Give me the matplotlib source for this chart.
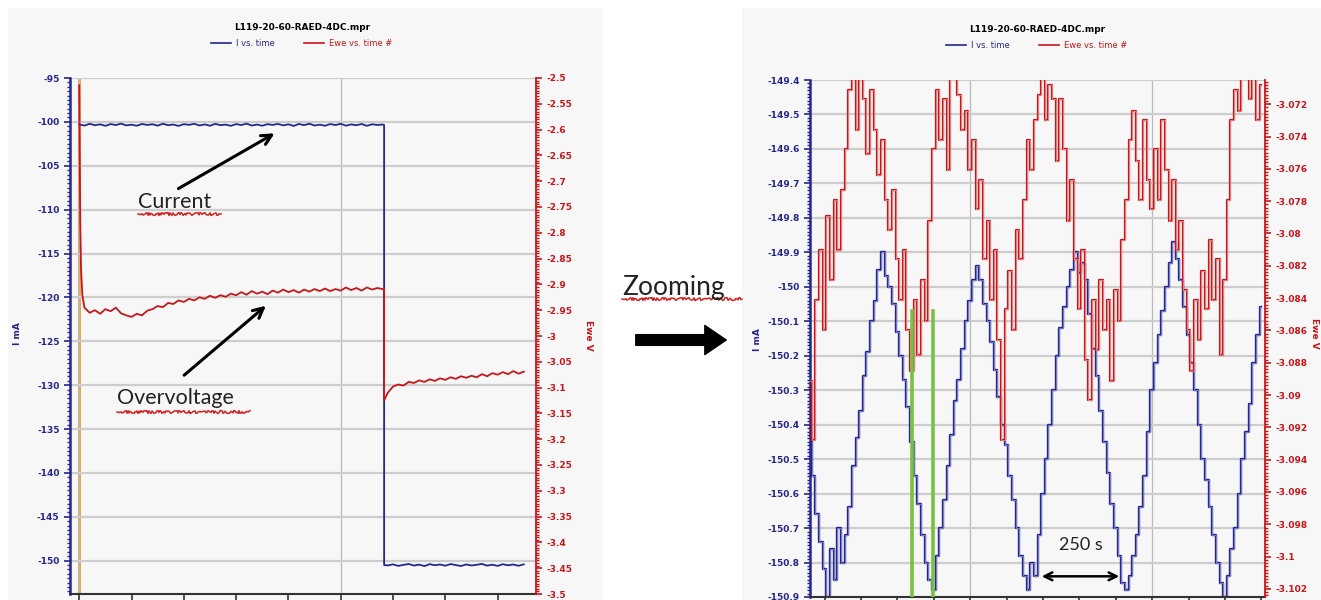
import numpy as np
import matplotlib
matplotlib.use("Agg")
import matplotlib.pyplot as plt
from matplotlib.lines import Line2D
from matplotlib.patches import FancyArrowPatch, Rectangle
from matplotlib.ticker import MultipleLocator, AutoMinorLocator, FormatStrFormatter

plt.rcParams["axes.unicode_minus"] = False

W, H = 1321, 600
BLUE = "#26268f"
RED = "#c8161b"
GREEN = "#78c143"
ORANGE = "#eba64a"
TITLE = "L119-20-60-RAED-4DC.mpr"

# ── Left panel: whole pulse (time / s, I / mA, Ewe / V) ─────────────────────
t_step1 = np.arange(0, 5900, 100)          # first current step
i_step1 = [-100.30, -100.42, -100.22, -100.38, -100.28, -100.45, -100.25, -100.36, -100.20, -100.40,
           -100.32, -100.44, -100.24, -100.35, -100.27, -100.43, -100.21, -100.38, -100.30, -100.46,
           -100.26, -100.34, -100.22, -100.41, -100.29, -100.44, -100.23, -100.37, -100.31, -100.45,
           -100.25, -100.36, -100.20, -100.42, -100.30, -100.44, -100.26, -100.35, -100.23, -100.40,
           -100.28, -100.46, -100.24, -100.37, -100.21, -100.41, -100.32, -100.44, -100.25, -100.36,
           -100.22, -100.43, -100.29, -100.38, -100.24, -100.45, -100.27, -100.35, -100.30]
t_switch = 5830
i_switch = [-100.35, -150.50]
ewe_switch = [-2.909, -3.125]
t_step2 = np.arange(5900, 8600, 100)       # second current step
i_step2 = [-150.55, -150.42, -150.60, -150.48, -150.38, -150.56, -150.45, -150.62, -150.40, -150.52,
           -150.44, -150.58, -150.39, -150.50, -150.61, -150.43, -150.55, -150.47, -150.37, -150.57,
           -150.46, -150.60, -150.41, -150.53, -150.44, -150.58, -150.42]

t_start = [0, 10, 20, 35, 60]
ewe_start = [-2.514, -2.650, -2.780, -2.870, -2.920]
ewe_step1 = [-2.945, -2.955, -2.950, -2.957, -2.948, -2.952, -2.945, -2.956, -2.960, -2.963,
             -2.957, -2.960, -2.951, -2.948, -2.942, -2.944, -2.936, -2.938, -2.931, -2.934,
             -2.928, -2.931, -2.925, -2.928, -2.922, -2.926, -2.921, -2.924, -2.918, -2.921,
             -2.915, -2.920, -2.913, -2.918, -2.914, -2.919, -2.912, -2.916, -2.910, -2.915,
             -2.911, -2.916, -2.910, -2.914, -2.909, -2.913, -2.908, -2.913, -2.909, -2.912,
             -2.906, -2.911, -2.907, -2.912, -2.906, -2.910, -2.907, -2.909]   # t = 100..5800
ewe_step2 = [-3.110, -3.098, -3.094, -3.096, -3.089, -3.091, -3.086, -3.089, -3.084, -3.087,
             -3.082, -3.085, -3.080, -3.083, -3.078, -3.081, -3.077, -3.080, -3.074, -3.078,
             -3.072, -3.075, -3.070, -3.074, -3.068, -3.073, -3.069]
t_orange = 0

# ── Right panel: zoom on the second step ───────────────────────────────────
t_zoom = np.arange(0, 1250, 10)
i_zoom = [-150.45, -150.55, -150.66, -150.74, -150.82, -150.90, -150.76, -150.85, -150.70, -150.80,
          -150.72, -150.64, -150.52, -150.44, -150.36, -150.26, -150.19, -150.10, -150.04, -149.95,
          -149.90, -149.97, -150.00, -150.05, -150.13, -150.20, -150.27, -150.35, -150.45, -150.55,
          -150.63, -150.72, -150.80, -150.85, -150.88, -150.78, -150.70, -150.62, -150.52, -150.43,
          -150.33, -150.27, -150.18, -150.10, -150.04, -149.98, -149.94, -149.98, -150.05, -150.10,
          -150.16, -150.24, -150.32, -150.40, -150.46, -150.55, -150.62, -150.70, -150.78, -150.84,
          -150.88, -150.80, -150.84, -150.72, -150.60, -150.50, -150.40, -150.30, -150.20, -150.12,
          -150.06, -150.00, -149.95, -149.90, -149.96, -149.93, -149.98, -150.08, -150.18, -150.26,
          -150.36, -150.45, -150.54, -150.63, -150.70, -150.78, -150.86, -150.88, -150.84, -150.78,
          -150.72, -150.64, -150.55, -150.42, -150.30, -150.22, -150.14, -150.07, -150.00, -149.93,
          -149.87, -149.92, -149.98, -150.06, -150.14, -150.22, -150.30, -150.40, -150.50, -150.56,
          -150.64, -150.72, -150.80, -150.86, -150.90, -150.84, -150.76, -150.70, -150.60, -150.50,
          -150.42, -150.34, -150.22, -150.14, -150.06]
ewe_zoom = [-3.0891, -3.0928, -3.0841, -3.0810, -3.0860, -3.0789, -3.0829, -3.0779, -3.0810, -3.0773,
            -3.0748, -3.0711, -3.0700, -3.0736, -3.0700, -3.0717, -3.0751, -3.0711, -3.0736, -3.0764,
            -3.0742, -3.0779, -3.0798, -3.0773, -3.0816, -3.0841, -3.0810, -3.0860, -3.0885, -3.0841,
            -3.0875, -3.0829, -3.0854, -3.0792, -3.0748, -3.0711, -3.0742, -3.0717, -3.0761, -3.0700,
            -3.0700, -3.0714, -3.0736, -3.0724, -3.0761, -3.0742, -3.0785, -3.0767, -3.0816, -3.0792,
            -3.0841, -3.0810, -3.0866, -3.0928, -3.0847, -3.0823, -3.0860, -3.0798, -3.0816, -3.0779,
            -3.0742, -3.0761, -3.0730, -3.0714, -3.0700, -3.0730, -3.0708, -3.0717, -3.0755, -3.0717,
            -3.0748, -3.0792, -3.0767, -3.0816, -3.0847, -3.0810, -3.0878, -3.0903, -3.0841, -3.0872,
            -3.0829, -3.0860, -3.0841, -3.0891, -3.0835, -3.0854, -3.0804, -3.0779, -3.0742, -3.0724,
            -3.0755, -3.0779, -3.0730, -3.0767, -3.0785, -3.0748, -3.0779, -3.0730, -3.0761, -3.0792,
            -3.0767, -3.0810, -3.0792, -3.0835, -3.0860, -3.0885, -3.0841, -3.0866, -3.0823, -3.0847,
            -3.0804, -3.0841, -3.0816, -3.0875, -3.0829, -3.0779, -3.0730, -3.0711, -3.0724, -3.0700,
            -3.0700, -3.0717, -3.0700, -3.0730, -3.0708]
t_green = [279, 339]
green_top = -150.07
period_from, period_to = 629, 857


def fx(px):
    return px / W


def fy(py):
    return 1 - py / H


fig = plt.figure(figsize=(W / 100, H / 100), dpi=100, facecolor="white")
fig.add_artist(Rectangle((fx(8), 0), fx(603) - fx(8), fy(8), transform=fig.transFigure,
                         facecolor="#f7f7f7", edgecolor="none", zorder=-10))
fig.add_artist(Rectangle((fx(742), 0), fx(1321) - fx(742), fy(8), transform=fig.transFigure,
                         facecolor="#f7f7f7", edgecolor="none", zorder=-10))


def style_axes(ax, tw, ymaj, y2maj, yfmt, y2fmt):
    ax.set_facecolor("none")
    ax.yaxis.set_major_locator(MultipleLocator(ymaj))
    ax.yaxis.set_minor_locator(AutoMinorLocator(10))
    ax.yaxis.set_major_formatter(FormatStrFormatter(yfmt))
    tw.yaxis.set_major_locator(MultipleLocator(y2maj))
    tw.yaxis.set_minor_locator(AutoMinorLocator(10))
    tw.yaxis.set_major_formatter(FormatStrFormatter(y2fmt))
    ax.grid(axis="y", color="#cdcdcd", lw=1.6)
    ax.grid(axis="x", which="major", color="#b9b9b9", lw=0.9)
    ax.tick_params(axis="y", which="major", colors=BLUE, labelsize=6.5, length=4, width=1.2)
    ax.tick_params(axis="y", which="minor", colors=BLUE, length=2, width=1)
    tw.tick_params(axis="y", which="major", colors=RED, labelsize=6.5, length=4, width=1.2)
    tw.tick_params(axis="y", which="minor", colors=RED, length=2, width=1)
    ax.tick_params(axis="x", which="both", length=4, width=1.2, labelbottom=False, color="#333333")
    for lab in ax.get_yticklabels():
        lab.set_fontweight("bold")
    for lab in tw.get_yticklabels():
        lab.set_fontweight("bold")
    ax.spines["left"].set_color(BLUE)
    ax.spines["left"].set_linewidth(1.8)
    ax.spines["bottom"].set_color("#333333")
    ax.spines["bottom"].set_linewidth(1.5)
    ax.spines["top"].set_visible(False)
    ax.spines["right"].set_visible(False)
    for s in ("left", "top", "bottom"):
        tw.spines[s].set_visible(False)
    tw.spines["right"].set_color(RED)
    tw.spines["right"].set_linewidth(1.3)


def header(cx, ty, ly, ax):
    fig.text(fx(cx), fy(ty), TITLE, ha="center", va="center", fontsize=6.5, fontweight="bold")
    handles = [Line2D([], [], color=BLUE, lw=1.2), Line2D([], [], color=RED, lw=1.2)]
    leg = ax.legend(handles, ["I vs. time", "Ewe vs. time #"], loc="center",
                    bbox_to_anchor=(fx(cx), fy(ly)), bbox_transform=fig.transFigure,
                    ncol=2, frameon=False, fontsize=6, columnspacing=3.5, handlelength=2.4,
                    handletextpad=0.6)
    leg.get_texts()[0].set_color(BLUE)
    leg.get_texts()[1].set_color(RED)


def squiggle(x0, x1, py):
    ln = Line2D([fx(x0), fx(x1)], [fy(py), fy(py)], transform=fig.transFigure,
                color="#d62020", lw=1.1)
    ln.set_sketch_params(scale=1.4, length=2.5, randomness=0)
    fig.add_artist(ln)


# ── Left panel ─────────────────────────────────────────────────────────────
axl = fig.add_axes([fx(70), fy(594), fx(536) - fx(70), (594 - 78) / H])
twl = axl.twinx()
axl.axvline(t_orange, color=ORANGE, lw=2.2, zorder=1.5)
t_i = np.concatenate([t_step1, [t_switch, t_switch], t_step2])
i_all = np.concatenate([i_step1, i_switch, i_step2])
axl.plot(t_i, i_all, color=BLUE, lw=1.3, zorder=2)
t_e = np.concatenate([t_start, t_step1[1:], [t_switch, t_switch], t_step2])
e_all = np.concatenate([ewe_start, ewe_step1, ewe_switch, ewe_step2])
twl.plot(t_e, e_all, color=RED, lw=1.3)
axl.set_xlim(-176, 8734)
axl.set_ylim(-153.8, -95)
twl.set_ylim(-3.5, -2.5)
axl.xaxis.set_major_locator(MultipleLocator(5000))
axl.xaxis.set_minor_locator(MultipleLocator(1000))
style_axes(axl, twl, 5, 0.05, "%g", "%g")
header(302, 27, 43, twl)

twl.annotate("", xy=(3782, -101.15), xytext=(1851, -107.76),
             xycoords=axl.transData, textcoords=axl.transData,
             arrowprops=dict(arrowstyle="->", lw=2.2, color="black", mutation_scale=18))
twl.annotate("", xy=(3610, -120.75), xytext=(1966, -129.07),
             xycoords=axl.transData, textcoords=axl.transData,
             arrowprops=dict(arrowstyle="->", lw=2.2, color="black", mutation_scale=18))
twl.text(1124, -109.13, "Current", transform=axl.transData, fontsize=15.5,
         family="Lato", ha="left", va="center", color="#222222")
twl.text(723, -131.47, "Overvoltage", transform=axl.transData, fontsize=15.5,
         family="Lato", ha="left", va="center", color="#222222")
squiggle(138, 221, 214)
squiggle(117, 250, 412)

fig.text(fx(17), fy(334), "I mA", rotation=90, ha="center", va="center",
         fontsize=6.5, fontweight="bold", color=BLUE)
fig.text(fx(588), fy(335), "Ewe V", rotation=270, ha="center", va="center",
         fontsize=6.5, fontweight="bold", color=RED)

# ── Middle: "Zooming" ──────────────────────────────────────────────────────
fig.text(fx(622), fy(288), "Zooming", fontsize=19, family="Lato", ha="left",
         va="center", color="#222222")
squiggle(622, 742, 299)
fig.add_artist(FancyArrowPatch((fx(633), fy(340)), (fx(729), fy(340)),
                               transform=fig.transFigure, color="black",
                               arrowstyle="simple,head_length=1.1,head_width=1.5,tail_width=0.55",
                               mutation_scale=14))

# ── Right panel ────────────────────────────────────────────────────────────
axr = fig.add_axes([fx(810), fy(597), fx(1265) - fx(810), (597 - 80) / H])
twr = axr.twinx()
axr.plot(t_zoom, i_zoom, color=BLUE, lw=1.7, drawstyle="steps-mid", zorder=2)
axr.plot(t_zoom, i_zoom, color="#9a9ad8", lw=0.5, drawstyle="steps-mid", zorder=2.1)
twr.plot(t_zoom, ewe_zoom, color=RED, lw=1.6, drawstyle="steps-mid")
twr.plot(t_zoom, ewe_zoom, color="#f2a8a8", lw=0.5, drawstyle="steps-mid")
axr.set_xlim(0, 1250)
axr.set_ylim(-150.9, -149.4)
twr.set_ylim(-3.1025, -3.0705)
axr.xaxis.set_major_locator(MultipleLocator(500, offset=440))
axr.xaxis.set_minor_locator(MultipleLocator(100, offset=40))
style_axes(axr, twr, 0.1, 0.002, "%g", "%g")
header(1037, 29, 45, twr)

for tg in t_green:
    twr.plot([tg, tg], [-150.9, green_top], color=GREEN, lw=2.6,
             transform=axr.transData, zorder=5)
twr.annotate("", xy=(period_to, -150.84), xytext=(period_from, -150.84),
             xycoords=axr.transData, textcoords=axr.transData,
             arrowprops=dict(arrowstyle="<->", lw=1.8, color="black", mutation_scale=14))
twr.text((period_from + period_to) / 2, -150.75, "250 s", transform=axr.transData,
         fontsize=13, family="Lato", ha="center", va="center", color="#222222")

fig.text(fx(758), fy(340), "I mA", rotation=90, ha="center", va="center",
         fontsize=6.5, fontweight="bold", color=BLUE)
fig.text(fx(1314), fy(333), "Ewe V", rotation=270, ha="center", va="center",
         fontsize=6.5, fontweight="bold", color=RED)

fig.savefig("out.png", dpi=100, facecolor=fig.get_facecolor())
